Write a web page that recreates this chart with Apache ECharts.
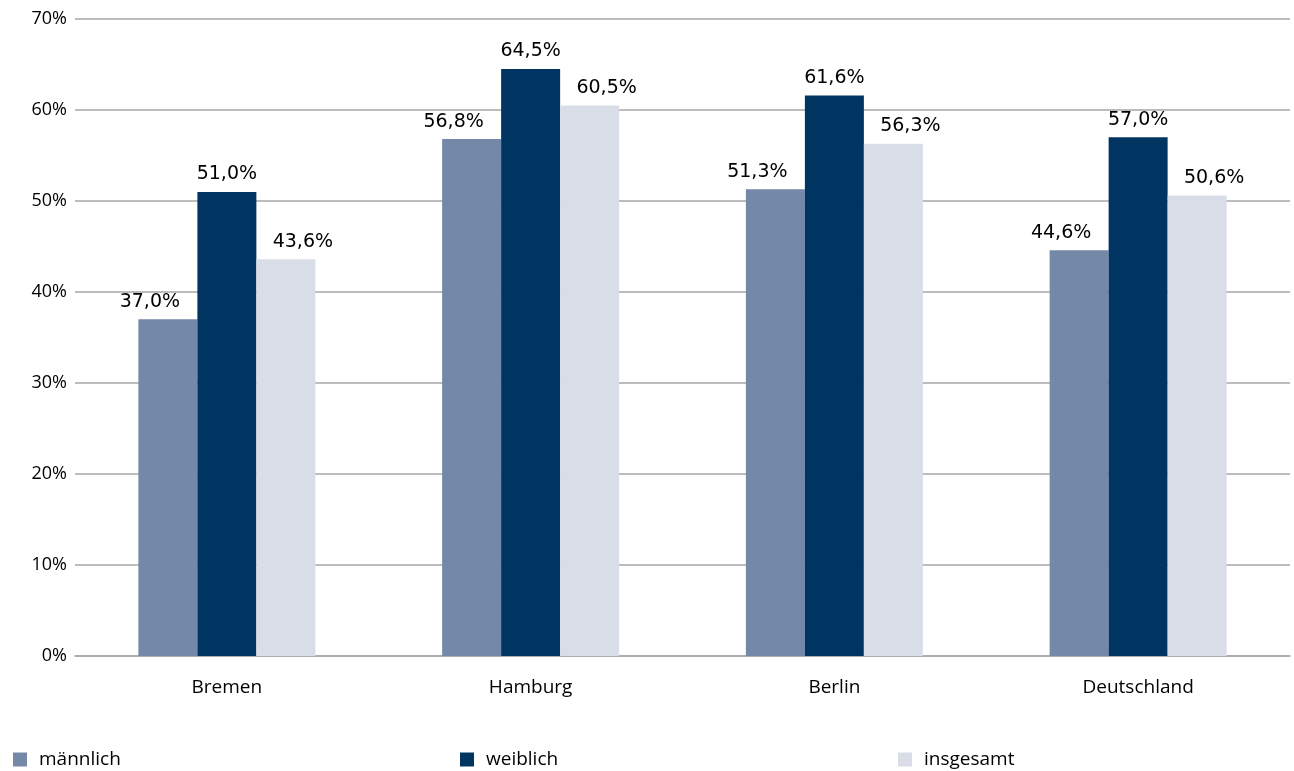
<!DOCTYPE html>
<html><head><meta charset="utf-8">
<script src="https://cdn.jsdelivr.net/npm/echarts@6/dist/echarts.min.js"></script>
<style>html,body{margin:0;padding:0;background:#fff}#c{width:1294px;height:771px}</style>
</head><body><div id="c"></div>
<script>
const categories = ["Bremen", "Hamburg", "Berlin", "Deutschland"];
const maennlich = [37.0, 56.8, 51.3, 44.6];
const weiblich = [51.0, 64.5, 61.6, 57.0];
const insgesamt = [43.6, 60.5, 56.3, 50.6];
const seriesNames = ["männlich", "weiblich", "insgesamt"];
const colors = ["#7489A8", "#003461", "#D9DDE8"];

const axisFont = "Open Sans";
const fmt = p => p.value.toFixed(1).replace('.', ',') + '%';
const mkSeries = (name, data, color, dx) => ({
  name, type: 'bar', data, barWidth: 59, barGap: '0%',
  itemStyle: { color },
  label: { show: true, position: 'top', distance: 8, offset: [dx, 0], formatter: fmt,
    fontFamily: 'DejaVu Sans', fontSize: 19, color: '#000' }
});
const chart = echarts.init(document.getElementById('c'));
chart.setOption({
  animation: false,
  grid: { left: 75, right: 4, top: 19, bottom: 115, containLabel: false },
  legend: [0,1,2].map(i => ({
    data: [seriesNames[i]], left: [8, 455, 893][i], top: 745, itemWidth: 14, itemHeight: 14,
    icon: 'rect', textStyle: { fontFamily: axisFont, fontSize: 19, color: '#000', padding: [0,0,0,7] }
  })),
  xAxis: { type: 'category', data: categories,
    axisLine: { lineStyle: { color: '#A6A6A6', width: 1.5 } }, axisTick: { show: false },
    axisLabel: { fontFamily: axisFont, fontSize: 19, color: '#000', margin: 22 } },
  yAxis: { type: 'value', min: 0, max: 70, interval: 10,
    axisLabel: { formatter: '{value}%', fontFamily: axisFont, fontSize: 18, color: '#000', margin: 8 },
    axisLine: { show: false }, axisTick: { show: false },
    splitLine: { lineStyle: { color: '#A6A6A6', width: 1.5 } } },
  series: [
    mkSeries(seriesNames[0], maennlich, colors[0], -18),
    mkSeries(seriesNames[1], weiblich, colors[1], 0),
    mkSeries(seriesNames[2], insgesamt, colors[2], 17)
  ]
});
</script></body></html>
